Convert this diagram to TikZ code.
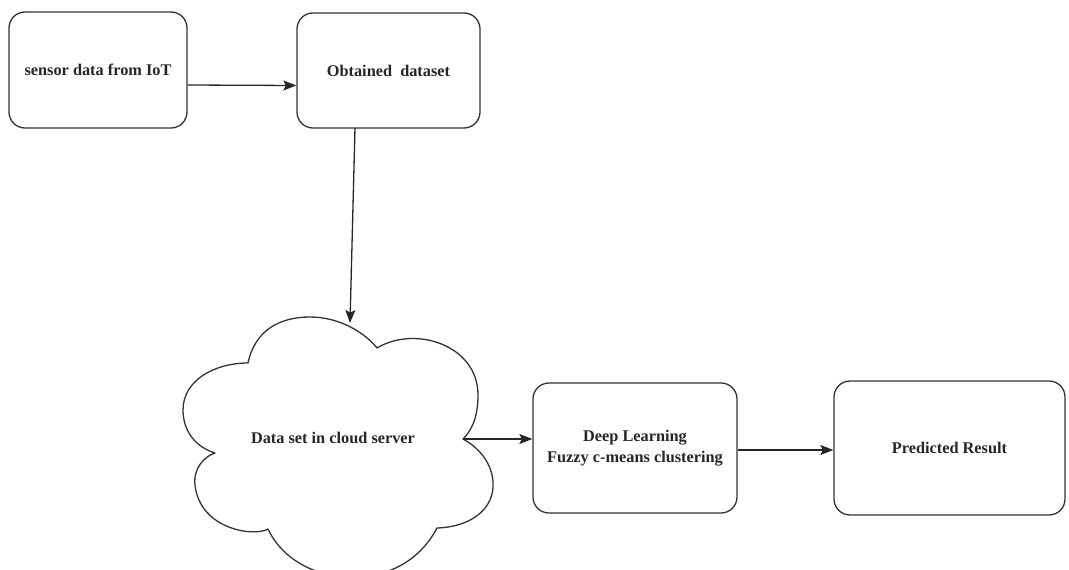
\documentclass[tikz,border=0pt]{standalone}
\usepackage{fontspec}
\setmainfont{Liberation Serif}
\usetikzlibrary{arrows.meta,calc}
\begin{document}
\begin{tikzpicture}[x=1pt,y=-1pt,
  line width=1.3pt,
  every node/.append style={font=\fontsize{16.3}{21}\selectfont\bfseries, text=black!85},
  stepbox/.style={draw=black!80, line width=1.3pt, rounded corners=16pt, align=center, inner sep=0pt},
  flow/.style={draw=black!85, line width=1.3pt, -{Stealth[length=13pt,width=10pt,inset=2.5pt]}},
  cloudline/.style={draw=black!80, line width=1.3pt, line join=round}]
  \useasboundingbox (0,0) rectangle (1069,570);

  % process boxes
  \node[stepbox, minimum width=178pt, minimum height=116pt] (b1) at (98,70) {sensor data from IoT};
  \node[stepbox, minimum width=183pt, minimum height=115pt] (b2) at (388.5,70.5) {Obtained\ \ dataset};
  \node[stepbox, minimum width=204pt, minimum height=130pt] (b3) at (635,448) {Deep Learning\\Fuzzy c-means clustering};
  \node[stepbox, minimum width=231pt, minimum height=134pt] (b4) at (949.5,448) {Predicted Result};

  % cloud outline
  \path[cloudline]
    (248,363) .. controls (255,330) and (280,317) .. (310,317)
              .. controls (340,317) and (365,333) .. (377,348)
              .. controls (415,325) and (478,345) .. (478,395)
              .. controls (478,420) and (470,432) .. (463,439)
              .. controls (483,450) and (494,468) .. (493,487)
              .. controls (492,510) and (470,527) .. (437,528)
              .. controls (420,560) and (390,577) .. (352,577)
              .. controls (310,577) and (280,555) .. (268,529)
              .. controls (255,537) and (200,530) .. (195,485)
              .. controls (193,468) and (205,456) .. (215,453)
              .. controls (190,445) and (183,425) .. (183,410)
              .. controls (183,380) and (215,363) .. cycle;
  \node (cloud) at (333,438) {Data set in cloud server};
  \coordinate (ctop) at (350,323);
  \coordinate (cright) at (463,439);
  \coordinate (b2out) at (355,128);

  % connectors
  \draw[flow] ([yshift=-15pt]b1.east) -- ([yshift=-15pt]b2.west);
  \draw[flow] (b2out) -- (ctop);
  \draw[flow] (cright) -- (cright -| b3.west);
  \draw[flow] ([yshift=-2pt]b3.east) -- ([yshift=-2pt]b4.west);
\end{tikzpicture}
\end{document}
